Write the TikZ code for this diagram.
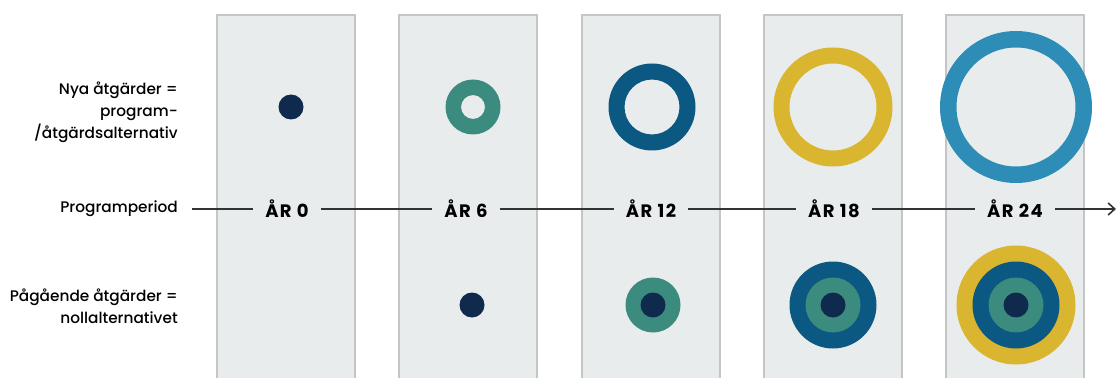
\documentclass[tikz,border=0pt]{standalone}
\usepackage{fontspec}
\setmainfont{Poppins}
\newfontfamily\sidefont{Poppins Medium}
\newfontfamily\yearfont[LetterSpace=8]{Poppins}
\usetikzlibrary{arrows.meta}
\definecolor{panelbg}{HTML}{E9ECEC}
\definecolor{panelbd}{HTML}{C4C6C6}
\definecolor{cnavy}{HTML}{0F2A4C}
\definecolor{cgreen}{HTML}{3C8B7F}
\definecolor{cteal}{HTML}{0B5882}
\definecolor{cyellow}{HTML}{D9B530}
\definecolor{cblue}{HTML}{2E8DB6}
\definecolor{tline}{HTML}{333333}
\tikzset{
  panel/.style={fill=panelbg, draw=panelbd, line width=0.8pt},
  sidelabel/.style={anchor=east, align=right, font=\sidefont\fontsize{11.5}{16.5}\selectfont, text=black, inner sep=0pt},
  yearlabel/.style={font=\yearfont\bfseries\fontsize{13.5}{16}\selectfont, text=black, inner xsep=9pt, inner ysep=2pt},
  tl/.style={draw=tline, line width=1.2pt},
}
\newcommand{\ringat}[5]{% x, y, r_in, r_out, color
  \fill[#5, even odd rule] (#1,#2) circle (#4) (#1,#2) circle (#3);}
\newcommand{\dotat}[4]{\fill[#4] (#1,#2) circle (#3);}
\begin{document}
\begin{tikzpicture}[x=0.75pt,y=-0.75pt]
\useasboundingbox (0,0) rectangle (1118,378);
% panels
\foreach \l in {217,399,582,764,946}{
  \draw[panel] (\l,390) -- (\l,15) -- ++(138,0) -- ++(0,375);
}
% side labels
\node[sidelabel] (nya) at (178,112) {Nya åtgärder =\\program-\\/åtgärdsalternativ};
\node[sidelabel] (prog) at (178,209) {Programperiod};
\node[sidelabel] (pag) at (178,306) {Pågående åtgärder =\\nollalternativet};
% year labels
\node[yearlabel] (y0) at (287,209) {ÅR 0};
\node[yearlabel] (y6) at (466,209) {ÅR 6};
\node[yearlabel] (y12) at (651,209) {ÅR 12};
\node[yearlabel] (y18) at (834,209) {ÅR 18};
\node[yearlabel] (y24) at (1015,209) {ÅR 24};
\coordinate (start) at (192,209);
\coordinate (tip) at (1116,209);
\draw[tl] (start) -- (y0.west);
\draw[tl] (y0.east) -- (y6.west);
\draw[tl] (y6.east) -- (y12.west);
\draw[tl] (y12.east) -- (y18.west);
\draw[tl] (y18.east) -- (y24.west);
\draw[tl, -{Straight Barb[length=5pt,width=9pt,line width=1.2pt]}] (y24.east) -- (tip);
% top row: new measures
\dotat{291}{107}{12.5}{cnavy}
\ringat{473}{107}{12}{27.5}{cgreen}
\ringat{652}{107}{27.5}{43.5}{cteal}
\ringat{833}{107}{43.5}{59.5}{cyellow}
\ringat{1016}{107}{59.5}{76}{cblue}
% bottom row: ongoing measures
\dotat{472}{305}{12.5}{cnavy}
\fill[cgreen] (653,305) circle (27.5);
\dotat{653}{305}{12.5}{cnavy}
\fill[cteal] (833,305) circle (43.5);
\fill[cgreen] (833,305) circle (27.5);
\dotat{833}{305}{12.5}{cnavy}
\fill[cyellow] (1016,305) circle (59.5);
\fill[cteal] (1016,305) circle (43.5);
\fill[cgreen] (1016,305) circle (27.5);
\dotat{1016}{305}{12.5}{cnavy}
\end{tikzpicture}
\end{document}
